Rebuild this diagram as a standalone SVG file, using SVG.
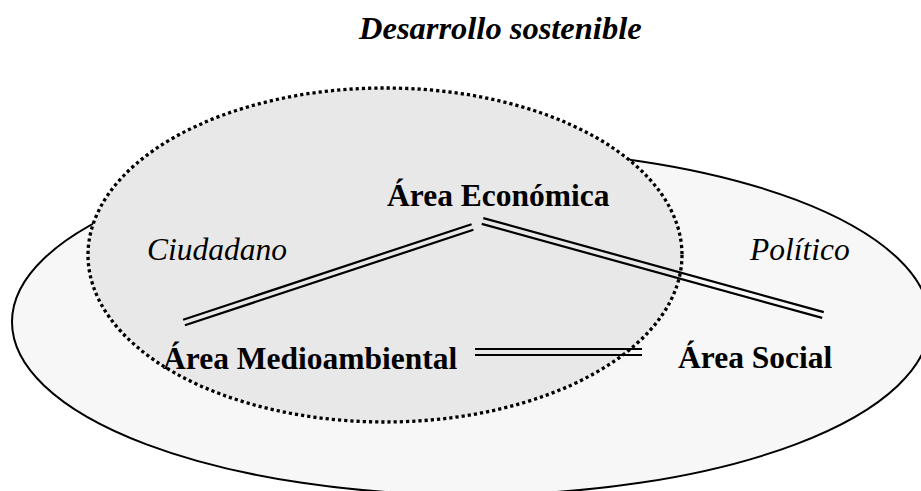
<svg xmlns="http://www.w3.org/2000/svg" width="921" height="491" viewBox="0 0 921 491">
<style>
.bold{font-family:"Liberation Serif","Times New Roman",serif;font-weight:bold;font-size:31.5px;fill:#000}
.ital{font-family:"Liberation Serif","Times New Roman",serif;font-style:italic;font-size:31.5px;fill:#000}
.title{font-family:"Liberation Serif","Times New Roman",serif;font-weight:bold;font-style:italic;font-size:32.5px;fill:#000}
.dbl line{stroke:#000;stroke-width:2.2;stroke-linecap:butt}
</style>
<rect width="921" height="491" fill="#ffffff"/>
<g id="title"><text class="title" x="359" y="39">Desarrollo sostenible</text></g>
<g id="outer-area"><ellipse cx="471" cy="322" rx="459" ry="173" fill="#f7f7f7" stroke="#000" stroke-width="2"/></g>
<g id="inner-area"><ellipse cx="385" cy="255" rx="297" ry="167" fill="#e8e8e8" stroke="none"/></g>
<g id="connectors" class="dbl">
<line x1="183.1" y1="319.7" x2="471.6" y2="224.2"/>
<line x1="184.9" y1="325.3" x2="473.4" y2="229.8"/>
<line x1="483.3" y1="218.1" x2="823.8" y2="312.1"/>
<line x1="481.7" y1="223.9" x2="822.2" y2="317.9"/>
<line x1="475" y1="349" x2="642" y2="349"/>
<line x1="475" y1="355" x2="642" y2="355"/>
</g>
<g id="inner-border"><ellipse cx="385" cy="255" rx="297" ry="167" fill="none" stroke="#000" stroke-width="3.3" stroke-dasharray="3.2 3"/></g>
<g id="node-economica"><text class="bold" x="387" y="206">Área Económica</text></g>
<g id="node-ciudadano"><text class="ital" x="147" y="260">Ciudadano</text></g>
<g id="node-politico"><text class="ital" x="750" y="260">Político</text></g>
<g id="node-medioambiental"><text class="bold" x="163" y="369">Área Medioambiental</text></g>
<g id="node-social"><text class="bold" x="678" y="368">Área Social</text></g>
</svg>
